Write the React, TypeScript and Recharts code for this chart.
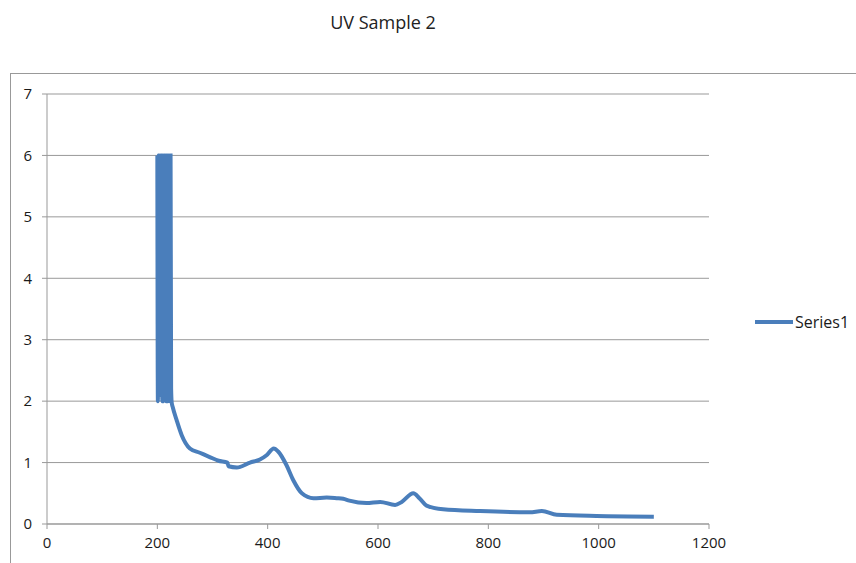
import { LineChart, Line, XAxis, YAxis, CartesianGrid } from 'recharts';

// wavelength (nm) and absorbance
const wavelengths = [
  200, 201, 202, 203, 204, 205, 206, 207, 208, 209, 210, 211, 212, 213, 214, 215, 216, 217, 218, 219,
  220, 221, 222, 223, 224, 225, 226, 228, 235, 244, 259, 277, 295, 311, 327, 329, 344, 368, 386, 398,
  411, 419, 434, 446, 462, 483, 507, 525, 537, 548, 579, 604, 631, 643, 664, 675, 688, 718, 785, 875,
  897, 924, 996, 1100,
];
const absorbance = [
  6, 2, 6, 6, 2.1, 6, 2.7, 6, 6, 2, 6, 2, 6, 6, 2.2, 6, 2, 6, 6, 2, 6, 2.3, 6, 2, 6, 2.2, 1.98, 1.9, 1.69, 1.45,
  1.23, 1.16, 1.09, 1.03, 1.0, 0.94, 0.92, 1.0, 1.05, 1.12, 1.23, 1.18, 0.96, 0.72, 0.5, 0.42, 0.43, 0.42, 0.41,
  0.38, 0.34, 0.36, 0.31, 0.36, 0.5, 0.42, 0.3, 0.24, 0.21, 0.19, 0.21, 0.15, 0.13, 0.12,
];
const xTicks = [0, 200, 400, 600, 800, 1000, 1200];
const yTicks = [0, 1, 2, 3, 4, 5, 6, 7];
const seriesName = 'Series1';

const data = wavelengths.map((w, i) => ({ w, v: absorbance[i] }));

const FONT = '"Open Sans", Calibri, sans-serif';
const BLUE = '#4A7EBB';

export default function App() {
  return (
    <div style={{ position: 'absolute', left: 0, top: 0, width: 856, height: 563, overflow: 'hidden', background: '#fff' }}>
      <div style={{ position: 'absolute', left: 10, top: 73, width: 900, height: 600, border: '1px solid #999' }} />
      <div style={{ position: 'absolute', left: 0, width: 766, top: 10, textAlign: 'center', fontFamily: FONT, fontSize: 18, color: '#222' }}>
        UV Sample 2
      </div>
      <div style={{ position: 'absolute', left: 0, top: 0 }}>
        <LineChart width={856} height={563} data={data} margin={{ top: 94, right: 147, left: 0, bottom: 0 }}>
          <CartesianGrid vertical={false} stroke="#999" strokeWidth={1} />
          <XAxis
            dataKey="w"
            type="number"
            domain={[0, 1200]}
            ticks={xTicks}
            interval={0}
            height={39}
            stroke="#999"
            tickSize={5}
            tickMargin={8}
            tick={{ fill: '#1a1a1a', fontSize: 15, fontFamily: FONT }}
          />
          <YAxis
            type="number"
            domain={[0, 7]}
            ticks={yTicks}
            interval={0}
            width={47}
            stroke="#999"
            tickSize={5}
            tickMargin={10}
            tick={{ fill: '#1a1a1a', fontSize: 15, fontFamily: FONT }}
          />
          <Line
            dataKey="v"
            name={seriesName}
            type="monotone"
            stroke={BLUE}
            strokeWidth={4}
            dot={false}
            isAnimationActive={false}
          />
        </LineChart>
      </div>
      <div style={{ position: 'absolute', left: 755, top: 311, display: 'flex', alignItems: 'center', fontFamily: FONT, fontSize: 16, color: '#1a1a1a' }}>
        <svg width={38} height={8}>
          <line x1={0} y1={4} x2={38} y2={4} stroke={BLUE} strokeWidth={4} />
        </svg>
        <span style={{ marginLeft: 2 }}>{seriesName}</span>
      </div>
    </div>
  );
}
